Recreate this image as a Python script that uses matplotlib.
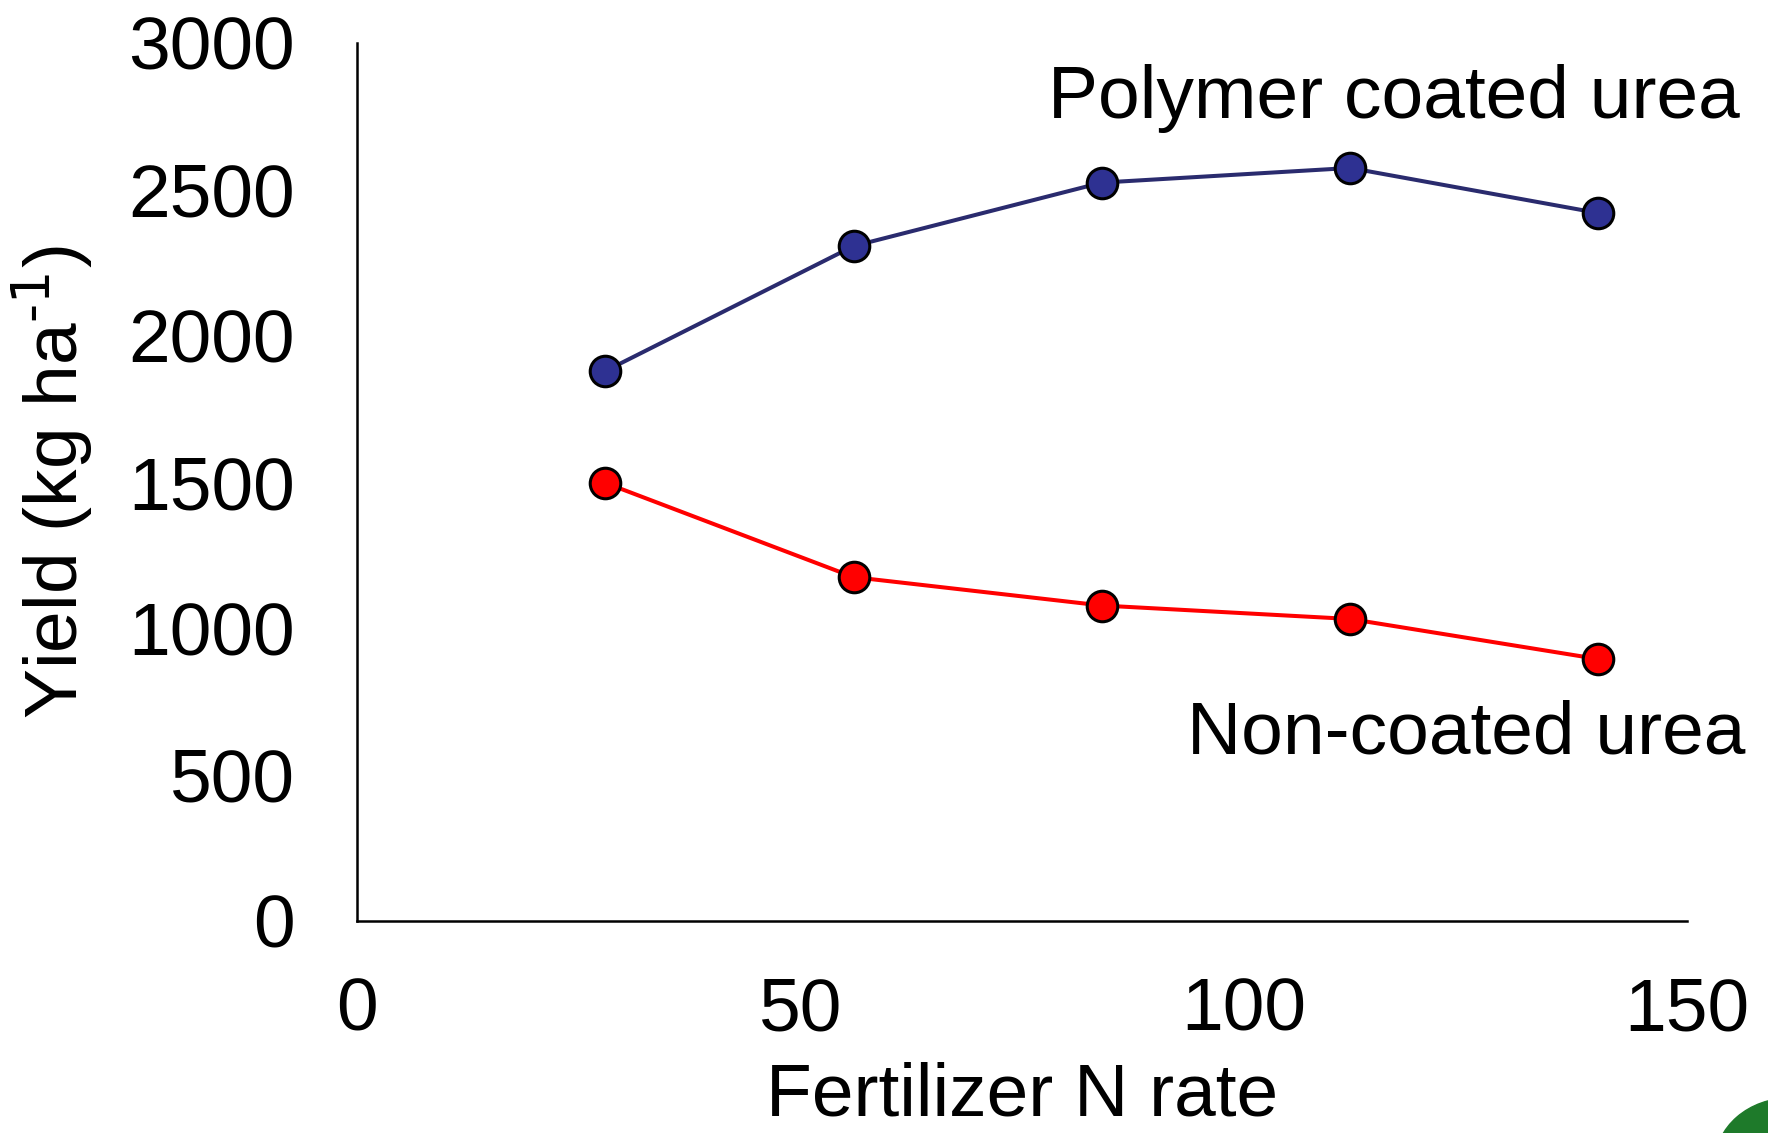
import matplotlib
matplotlib.use("Agg")
import matplotlib.pyplot as plt
from matplotlib.patches import Ellipse

plt.rcParams['font.family'] = ['Liberation Sans', 'DejaVu Sans']
plt.rcParams['mathtext.default'] = 'regular'

# Data
n_rate = [28, 56, 84, 112, 140]
polymer_yield = [1879, 2306, 2523, 2573, 2419]
noncoated_yield = [1497, 1175, 1078, 1032, 895]
x_ticks = [0, 50, 100, 150]
y_ticks = [0, 500, 1000, 1500, 2000, 2500, 3000]

W, H = 1768, 1133
fig = plt.figure(figsize=(W / 100, H / 100), dpi=100)
ax = fig.add_axes([357 / W, (H - 921) / H, 1330 / W, 878 / H])

FS = 54

ax.plot(n_rate, polymer_yield, color='#2a2b6e', lw=2.9, marker='o',
        markersize=22, markerfacecolor='#2e3192', markeredgecolor='black',
        markeredgewidth=2.2, zorder=3)
ax.plot(n_rate, noncoated_yield, color='#ff0000', lw=2.9, marker='o',
        markersize=22, markerfacecolor='#ff0000', markeredgecolor='black',
        markeredgewidth=2.2, zorder=3)

ax.set_xlim(0, 150)
ax.set_ylim(0, 3000)
ax.set_xticks(x_ticks)
ax.set_yticks(y_ticks)
ax.tick_params(axis='both', length=0, labelsize=FS)
ax.tick_params(axis='x', pad=40)
ax.tick_params(axis='y', pad=45)
for lbl in ax.get_yticklabels():
    lbl.set_va('center_baseline')

for side in ['top', 'right']:
    ax.spines[side].set_visible(False)
for side in ['left', 'bottom']:
    ax.spines[side].set_linewidth(1.8)
    ax.spines[side].set_color('black')

ax.text(156.0, 2744, 'Polymer coated urea', fontsize=FS, ha='right', va='baseline')
ax.text(156.6, 574, 'Non-coated urea', fontsize=FS, ha='right', va='baseline')

fig.text(1022 / W, 2 / H, 'Fertilizer N rate', fontsize=FS,
         ha='center', va='bottom')
fig.text(52 / W, 1 - 482 / H, 'Yield (kg ha$^{\\text{-1}}$)', fontsize=FS,
         rotation=90, ha='center', va='center')

# partial green logo in the lower right corner
fig.patches.append(Ellipse((1790, -30), 150, 130, transform=None,
                           color='#1e7a2a', zorder=0))

fig.savefig('out.png', dpi=100)
